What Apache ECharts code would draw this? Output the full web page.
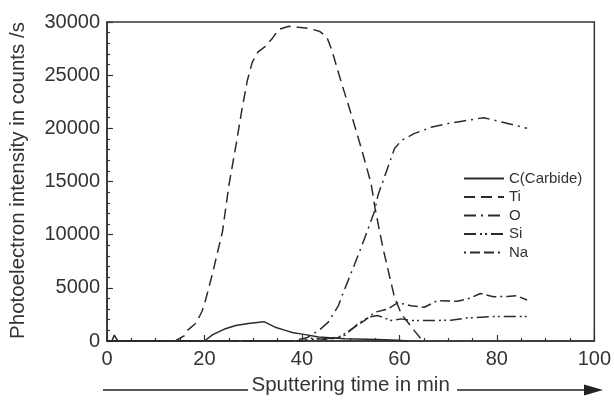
<!DOCTYPE html>
<html><head><meta charset="utf-8">
<script src="https://cdn.jsdelivr.net/npm/echarts@6/dist/echarts.min.js"></script>
<style>html,body{margin:0;padding:0;background:#fff}#c{width:614px;height:401px}</style>
</head><body><div id="c"></div>
<script>
var seriesNames = ['C(Carbide)', 'Ti', 'O', 'Si', 'Na'];
var xTicks = [0, 20, 40, 60, 80, 100];
var yTicks = [0, 5000, 10000, 15000, 20000, 25000, 30000];

var carbide = [[0,0],[1,0],[1.5,550],[2.2,0],[20,0],[21.7,600],[24,1100],[26.4,1450],[29,1650],[32.2,1820],[34.5,1300],[36.6,1000],[38,800],[40.7,600],[43.4,370],[48.8,220],[55.6,150],[59.7,60],[62,0]];
var ti = [[0,0],[14,0],[15.9,500],[16.5,1000],[18.3,1700],[19.5,2800],[20.2,3800],[21.6,6250],[23.7,10300],[25,14600],[26.5,18500],[27.7,21800],[28.8,24500],[29.8,26200],[31,27200],[32.5,27700],[34,28500],[35.2,29300],[37.3,29600],[39.3,29500],[41.5,29400],[43.7,29100],[45.1,28600],[46.1,27400],[48.1,24300],[50.2,21200],[52.2,18100],[54.2,14800],[55,12500],[56.6,8800],[59,4100],[60.4,2550],[63,1000],[64.8,0]];
var oxy = [[0,0],[38,0],[41,300],[43.5,1000],[45.4,1770],[47.5,3330],[48.1,4100],[50.8,7200],[52.9,9700],[54.9,12200],[55.6,13700],[57.3,15900],[59,18100],[60.4,18850],[63,19500],[66.5,20100],[70.5,20500],[73.2,20700],[77.3,21000],[81.4,20550],[86.2,20000]];
var si = [[0,0],[40,0],[43,200],[46,250],[48.8,530],[51.5,1610],[53.6,2240],[55.6,2390],[58.3,1930],[60.4,2080],[62.4,1930],[66.5,1930],[70.5,1950],[73.9,2170],[79.3,2300],[84.1,2300],[86.2,2300]];
var na = [[0,0],[40,0],[42,250],[45,150],[47.5,300],[50.8,1300],[52.9,1930],[54.9,2700],[57.6,3000],[59.7,3600],[62.4,3320],[65.1,3170],[67.8,3790],[71.9,3730],[74.6,4040],[76.6,4470],[79.3,4160],[82.1,4190],[84.1,4250],[86.2,3850]];

var dataSets = [carbide, ti, oxy, si, na];
var dashes = ['solid', [11,6], [12,5,2,5], [12,4,2,3,2,4], [2,4,10,4,10,4]];
var col = '#2b2b2b';
var font = 'Liberation Sans, Arial, sans-serif';

var chart = echarts.init(document.getElementById('c'), null, {renderer:'canvas'});
var series = seriesNames.map(function(n, i){
  return {
    name: n, type: 'line', data: dataSets[i], symbol: 'none', showSymbol: false, smooth: false,
    lineStyle: {color: col, width: 1.5, type: dashes[i]},
    itemStyle: {color: col}
  };
});
chart.setOption({
  backgroundColor: '#fff',
  animation: false,
  grid: {left: 107, right: 16, top: 22, bottom: 57, show: true, borderColor: '#333', borderWidth: 1.5, backgroundColor: 'transparent'},
  legend: {
    orient: 'vertical', left: 463, top: 171, padding: 0, itemWidth: 40, itemHeight: 14, itemGap: 3.5,
    textStyle: {fontFamily: font, fontSize: 15, color: '#333', lineHeight: 14},
    itemStyle: {opacity: 0, borderWidth: 0},
    data: seriesNames
  },
  xAxis: {
    type: 'value', min: 0, max: 100, interval: 20,
    axisLine: {lineStyle: {color: '#333', width: 1.5}},
    axisTick: {inside: true, length: 6, lineStyle: {color: '#333', width: 1.2}},
    minorTick: {show: true, splitNumber: 4, length: 3, lineStyle: {color: '#333', width: 1.2}},
    axisLabel: {fontFamily: font, fontSize: 20, color: '#333', margin: 8, formatter: function(v){ return xTicks.indexOf(v) >= 0 ? String(v) : ''; }},
    splitLine: {show: false},
    name: 'Sputtering time in min', nameLocation: 'middle', nameGap: 34,
    nameTextStyle: {fontFamily: font, fontSize: 20.5, color: '#333'}
  },
  yAxis: {
    type: 'value', min: 0, max: 30000, interval: 5000,
    axisLine: {lineStyle: {color: '#333', width: 1.5}},
    axisTick: {inside: true, length: 6, lineStyle: {color: '#333', width: 1.2}},
    minorTick: {show: true, splitNumber: 5, length: 3, lineStyle: {color: '#333', width: 1.2}},
    axisLabel: {fontFamily: font, fontSize: 20, color: '#333', margin: 7, formatter: function(v){ return yTicks.indexOf(v) >= 0 ? String(v) : ''; }},
    splitLine: {show: false},
    name: 'Photoelectron intensity in counts /s', nameLocation: 'middle', nameGap: 78, nameRotate: 90,
    nameTextStyle: {fontFamily: font, fontSize: 20.5, color: '#333', padding: [0, 0, 0, 2]}
  },
  graphic: [
    {type: 'line', shape: {x1: 103, y1: 390, x2: 248, y2: 390}, style: {stroke: '#222', lineWidth: 1.5}},
    {type: 'line', shape: {x1: 457, y1: 390, x2: 590, y2: 390}, style: {stroke: '#222', lineWidth: 1.5}},
    {type: 'polygon', shape: {points: [[584, 384.5], [603, 390], [584, 395.5]]}, style: {fill: '#222'}}
  ],
  series: series
});
</script></body></html>
